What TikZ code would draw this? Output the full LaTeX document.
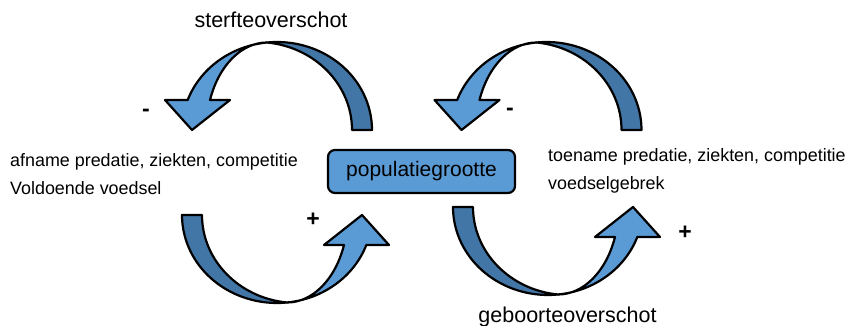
\documentclass[tikz,border=0pt]{standalone}
\usepackage{fontspec}
\setmainfont{Liberation Sans}
\definecolor{lightblue}{RGB}{91,155,213}
\definecolor{darkblue}{RGB}{66,118,166}
\tikzset{
  arrowpart/.style={draw=black, line width=2.2pt, line join=round},
  curvedarrow/.pic={
    % back (dark) part
    \path[arrowpart, fill=darkblue] (-10,87.5)
      arc[start angle=96.04, end angle=0, x radius=95, y radius=88]
      -- (75,0)
      arc[start angle=0, end angle=83.96, x radius=95, y radius=88]
      -- cycle;
    % front (light) part with head
    \path[arrowpart, fill=lightblue] (-10,87.5)
      arc[start angle=96.04, end angle=160.06, x radius=95, y radius=88]
      -- (-112,30) -- (-85,0) -- (-47,30) -- (-67,30)
      arc[start angle=159.95, end angle=90, x radius=60.7, y radius=87.5]
      -- cycle;
  },
  boxstyle/.style={draw=black, line width=2.2pt, fill=lightblue, rounded corners=7pt,
    minimum width=187pt, minimum height=43pt, inner sep=0pt,
    font=\fontsize{21}{24}\selectfont},
  bigtext/.style={font=\fontsize{21.5}{24}\selectfont, inner sep=0pt, anchor=base},
  sidetext/.style={font=\fontsize{17.9}{20}\selectfont, inner sep=0pt, anchor=base west},
  signtext/.style={font=\fontsize{23}{24}\selectfont\bfseries, inner sep=0pt}
}
\begin{document}
\begin{tikzpicture}[x=1pt,y=1pt]
\useasboundingbox (0,0) rectangle (846,326);
\fill[white] (0,0) rectangle (846,326);

\pic at (277,196) {curvedarrow};
\pic at (546.5,196) {curvedarrow};
\pic[rotate=180] at (277,111) {curvedarrow};
\pic[rotate=180] at (548,119) {curvedarrow};

\node[boxstyle] (box) at (421.5,154.5) {populatiegrootte};

\node[bigtext] (sterfte) at (271,298) {sterfteoverschot};
\node[bigtext] (geboorte) at (567.5,3) {geboorteoverschot};

\node[sidetext] (afname) at (10,159) {afname predatie, ziekten, competitie};
\node[sidetext] (voldoende) at (10,131.5) {Voldoende voedsel};
\node[sidetext] (toename) at (548,164) {toename predatie, ziekten, competitie};
\node[sidetext] (gebrek) at (548,136.5) {voedselgebrek};

\node[signtext] (minL) at (146,213) {-};
\node[signtext] (minR) at (510,214) {-};
\node[signtext] (plusL) at (313,106) {+};
\node[signtext] (plusR) at (685,93) {+};
\end{tikzpicture}
\end{document}
